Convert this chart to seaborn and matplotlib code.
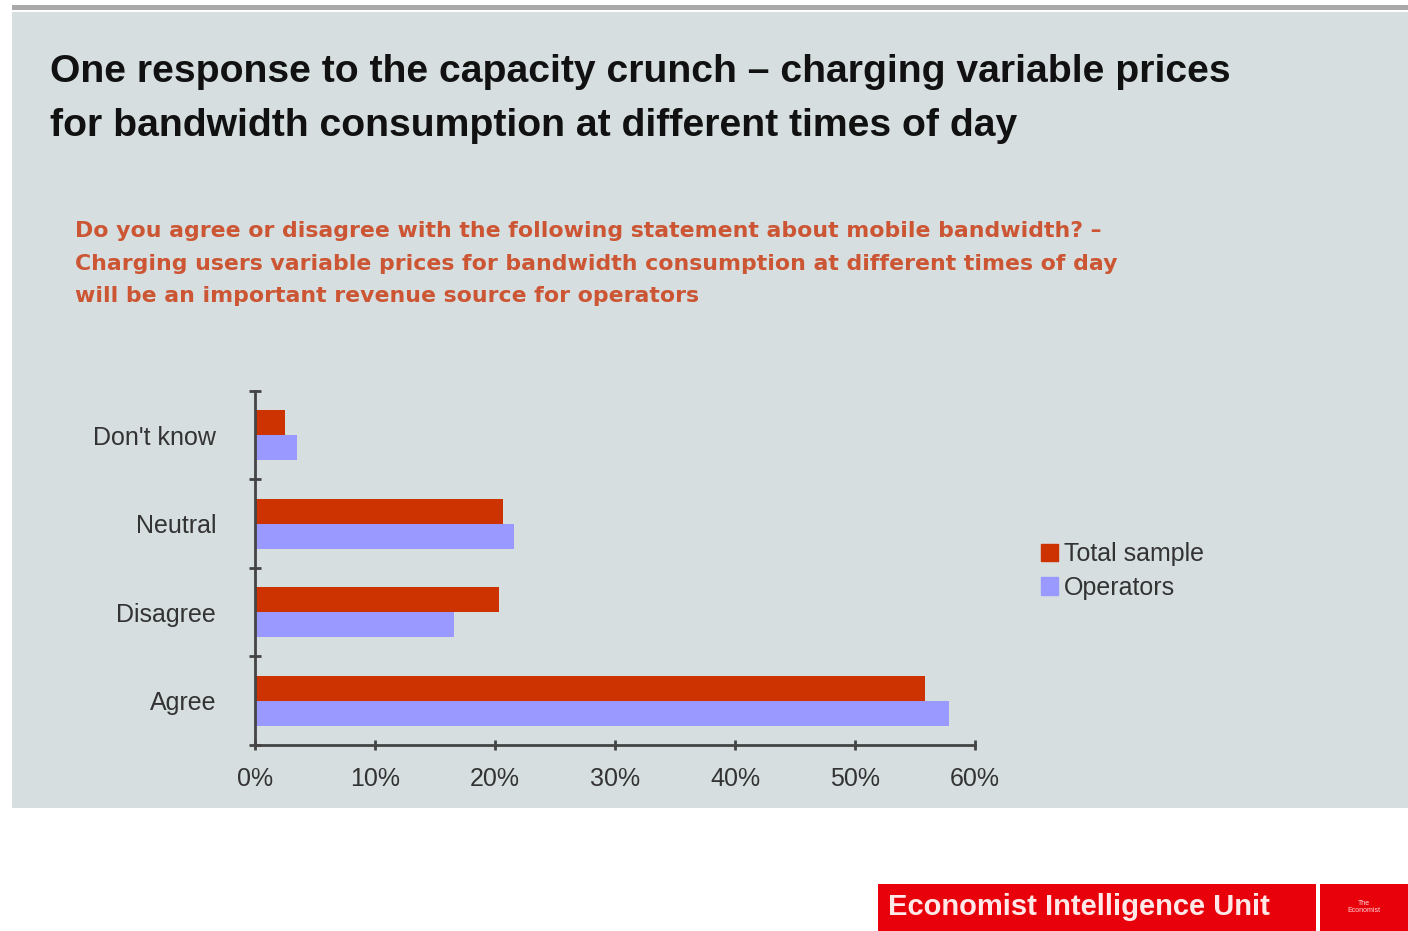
import numpy as np
import pandas as pd
import matplotlib.pyplot as plt
import matplotlib.patches as mpatches
import seaborn as sns

categories = ["Don't know", "Neutral", "Disagree", "Agree"]
total_sample = [2.5, 20.7, 20.3, 55.8]
operators = [3.5, 21.6, 16.6, 57.8]
series_names = ["Total sample", "Operators"]
x_ticks = [0, 10, 20, 30, 40, 50, 60]

df = pd.DataFrame({
    "answer": categories * 2,
    "share": total_sample + operators,
    "group": [series_names[0]] * 4 + [series_names[1]] * 4,
})

bg = "#d6dee0"
red = "#cc3300"
blue = "#9999ff"

sns.set_style("white")
plt.rcParams["font.family"] = ["Liberation Sans", "DejaVu Sans"]

fig = plt.figure(figsize=(14.08, 9.31), dpi=100)
fig.patch.set_facecolor("white")

# slide background panel
fig.patches.append(mpatches.Rectangle((12 / 1408, 1 - 808 / 931), 1, (808 - 12) / 931,
                                      transform=fig.transFigure, facecolor=bg, edgecolor="none", zorder=-5))
fig.patches.append(mpatches.Rectangle((12 / 1408, 1 - 10 / 931), 1, 5 / 931,
                                      transform=fig.transFigure, facecolor="#a9a9a9", edgecolor="none", zorder=-4))
# footer boxes
fig.patches.append(mpatches.Rectangle((878 / 1408, 0), 438 / 1408, 47 / 931,
                                      transform=fig.transFigure, facecolor="#e8000b", edgecolor="none"))
fig.patches.append(mpatches.Rectangle((1320 / 1408, 0), 88 / 1408, 47 / 931,
                                      transform=fig.transFigure, facecolor="#e8000b", edgecolor="none"))
fig.text(888 / 1408, 1 - 907 / 931, "Economist Intelligence Unit", color="#ffe8e8",
         fontsize=21, fontweight="bold", va="center", ha="left")
fig.text(1364 / 1408, 1 - 907 / 931, "The\nEconomist", color="#ffdada",
         fontsize=5, va="center", ha="center", linespacing=0.9)

fig.text(50 / 1408, 1 - 72 / 931, "One response to the capacity crunch \u2013 charging variable prices",
         fontsize=28.2, fontweight="bold", color="#111111", va="center")
fig.text(50 / 1408, 1 - 126 / 931, "for bandwidth consumption at different times of day",
         fontsize=28.2, fontweight="bold", color="#111111", va="center")

subtitle_lines = ["Do you agree or disagree with the following statement about mobile bandwidth? \u2013",
                  "Charging users variable prices for bandwidth consumption at different times of day",
                  "will be an important revenue source for operators"]
for i, line in enumerate(subtitle_lines):
    fig.text(75 / 1408, 1 - (231 + 32.5 * i) / 931, line, fontsize=15.8, fontweight="bold",
             color="#cc5533", va="center", ha="left", family=["DejaVu Sans"])

ax = fig.add_axes([255 / 1408, 1 - 745 / 931, 720 / 1408, 354 / 931])
ax.set_facecolor(bg)
sns.barplot(data=df, y="answer", x="share", hue="group", order=categories,
            hue_order=series_names, palette=[red, blue], orient="h",
            width=0.57, saturation=1, linewidth=0, ax=ax, legend=False)

ax.set_xlim(0, 60)
ax.set_ylim(3.5, -0.5)
ax.set_xticks(x_ticks)
ax.set_xticklabels([f"{t}%" for t in x_ticks])
ax.set_yticks(range(len(categories)))
ax.set_yticklabels(categories)
ax.set_yticks(np.arange(-0.5, 4, 1), minor=True)
ax.tick_params(axis="y", which="major", length=0, pad=28, labelsize=18, labelcolor="#333333")
ax.tick_params(axis="y", which="minor", length=8, width=2, direction="inout", color="#444444",
               left=True)
ax.tick_params(axis="x", length=7, width=2, direction="inout", color="#444444",
               labelsize=18, labelcolor="#333333", pad=12, bottom=True)
ax.set_xlabel("")
ax.set_ylabel("")
for s in ["top", "right"]:
    ax.spines[s].set_visible(False)
for s in ["left", "bottom"]:
    ax.spines[s].set_color("#444444")
    ax.spines[s].set_linewidth(2)

handles = [mpatches.Patch(color=red, label=series_names[0]),
           mpatches.Patch(color=blue, label=series_names[1])]
fig.legend(handles=handles, loc="center left", bbox_to_anchor=(1018 / 1408, 1 - 571 / 931),
           frameon=False, fontsize=18, handlelength=0.7, handleheight=0.7,
           handletextpad=0.25, labelspacing=0.38, labelcolor="#333333")

fig.savefig("out.png", dpi=100, facecolor=fig.get_facecolor())
